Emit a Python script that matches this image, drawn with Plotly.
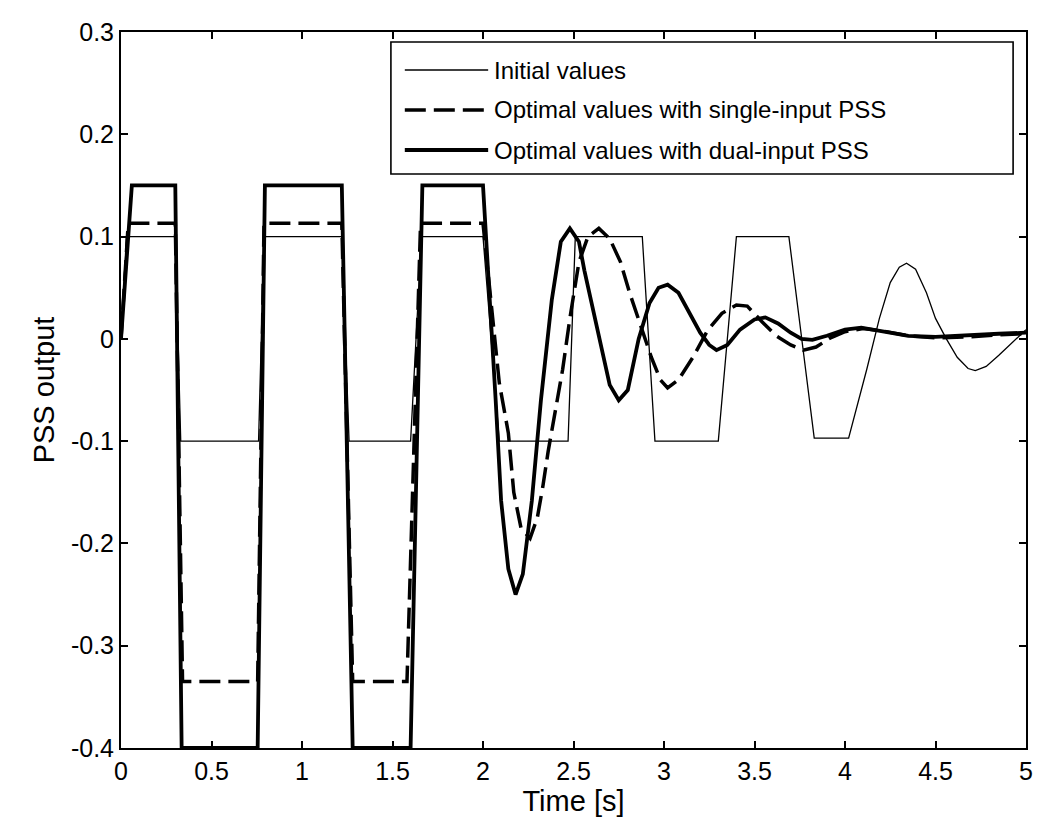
import plotly.graph_objects as go

# ---------------- data ----------------
t_initial = [0.0, 0.03, 0.30, 0.33, 0.76, 0.79, 1.22, 1.26, 1.60, 1.66, 2.00, 2.09,
             2.47, 2.51, 2.88, 2.95, 3.30, 3.40, 3.69, 3.83, 4.02, 4.12, 4.19, 4.25,
             4.30, 4.34, 4.39, 4.45, 4.50, 4.56, 4.62, 4.68, 4.72, 4.78, 4.85, 4.92, 5.00]
v_initial = [0.0, 0.10, 0.10, -0.10, -0.10, 0.10, 0.10, -0.10, -0.10, 0.10, 0.10, -0.10,
             -0.10, 0.10, 0.10, -0.10, -0.10, 0.10, 0.10, -0.097, -0.097, -0.03, 0.02, 0.055,
             0.070, 0.074, 0.068, 0.045, 0.020, 0.0, -0.018, -0.029, -0.031, -0.027, -0.016, -0.004, 0.009]

t_single = [0.0, 0.04, 0.30, 0.34, 0.755, 0.79, 1.22, 1.28, 1.58, 1.655, 2.00, 2.05,
            2.09, 2.14, 2.17, 2.21, 2.26, 2.30, 2.33, 2.36, 2.40, 2.44, 2.48, 2.53,
            2.58, 2.64, 2.70, 2.76, 2.81, 2.87, 2.93, 2.98, 3.02, 3.08, 3.16, 3.24,
            3.32, 3.40, 3.46, 3.54, 3.62, 3.70, 3.77, 3.84, 3.92, 4.00, 4.10, 4.20,
            4.35, 4.50, 4.70, 4.85, 5.00]
v_single = [0.0, 0.113, 0.113, -0.335, -0.335, 0.113, 0.113, -0.335, -0.335, 0.113, 0.113, 0.03,
            -0.043, -0.092, -0.150, -0.185, -0.195, -0.175, -0.145, -0.110, -0.070, -0.030, 0.020, 0.075,
            0.100, 0.108, 0.098, 0.075, 0.045, 0.013, -0.018, -0.040, -0.048, -0.040, -0.018, 0.008,
            0.025, 0.033, 0.032, 0.017, 0.003, -0.006, -0.011, -0.008, 0.001, 0.007, 0.010, 0.008,
            0.003, 0.001, 0.002, 0.004, 0.005]

t_dual = [0.0, 0.06, 0.30, 0.335, 0.755, 0.795, 1.22, 1.28, 1.60, 1.665, 2.00, 2.04,
          2.07, 2.10, 2.14, 2.18, 2.22, 2.27, 2.32, 2.38, 2.43, 2.48, 2.53, 2.56,
          2.64, 2.70, 2.75, 2.80, 2.86, 2.92, 2.97, 3.02, 3.08, 3.14, 3.20, 3.25,
          3.29, 3.35, 3.42, 3.50, 3.56, 3.63, 3.70, 3.76, 3.82, 3.90, 4.00, 4.09,
          4.20, 4.35, 4.50, 4.70, 4.85, 5.00]
v_dual = [0.0, 0.15, 0.15, -0.40, -0.40, 0.15, 0.15, -0.40, -0.40, 0.15, 0.15, 0.038,
          -0.060, -0.158, -0.225, -0.250, -0.230, -0.158, -0.060, 0.038, 0.095, 0.108, 0.095, 0.067,
          0.002, -0.045, -0.060, -0.050, 0.000, 0.035, 0.050, 0.053, 0.045, 0.025, 0.006, -0.006,
          -0.011, -0.006, 0.009, 0.019, 0.021, 0.015, 0.006, 0.000, -0.001, 0.003, 0.009, 0.011,
          0.008, 0.003, 0.002, 0.004, 0.005, 0.006]

series_names = ["Initial values",
                "Optimal values with single-input PSS",
                "Optimal values with dual-input PSS"]

x_ticks = [0, 0.5, 1, 1.5, 2, 2.5, 3, 3.5, 4, 4.5, 5]
x_ticklabels = ["0", "0.5", "1", "1.5", "2", "2.5", "3", "3.5", "4", "4.5", "5"]
y_ticks = [0.3, 0.2, 0.1, 0, -0.1, -0.2, -0.3, -0.4]
y_ticklabels = ["0.3", "0.2", "0.1", "0", "-0.1", "-0.2", "-0.3", "-0.4"]

# ---------------- figure ----------------
FONT = "Liberation Sans, Arial, Helvetica, sans-serif"
styles = [dict(color="black", width=1.3),
          dict(color="black", width=3.5, dash="21px,8px"),
          dict(color="black", width=3.8)]

fig = go.Figure()
for t, v, name, st in zip([t_initial, t_single, t_dual],
                          [v_initial, v_single, v_dual],
                          series_names, styles):
    fig.add_trace(go.Scatter(x=t, y=v, mode="lines", name=name, line=st,
                             showlegend=False))

# custom legend (MATLAB-like) in paper coordinates
L, R, T, B = 121, 1033, 32, 748
def px(xp):
    return (xp - L) / (R - L)
def py(yp):
    return 1 - (yp - T) / (B - T)

shapes = [dict(type="rect", xref="paper", yref="paper",
               x0=px(393), x1=px(1020), y0=py(174), y1=py(42),
               line=dict(color="black", width=1.6), fillcolor="white", layer="above")]
annotations = []
for i, (name, st) in enumerate(zip(series_names, styles)):
    yy = 70 + 40 * i
    shapes.append(dict(type="line", xref="paper", yref="paper",
                       x0=px(407), x1=px(491), y0=py(yy), y1=py(yy),
                       line=st, layer="above"))
    annotations.append(dict(xref="paper", yref="paper", x=px(495), y=py(yy),
                            text=name, showarrow=False, xanchor="left",
                            yanchor="middle", font=dict(family=FONT, size=24, color="black")))

fig.update_layout(
    width=1044, height=833,
    margin=dict(l=121, r=1044 - 1033, t=32, b=833 - 748),
    paper_bgcolor="white", plot_bgcolor="white",
    font=dict(family=FONT, size=25, color="black"),
    shapes=shapes, annotations=annotations,
    showlegend=False,
)
fig.update_xaxes(range=[0, 5], tickvals=x_ticks, ticktext=x_ticklabels,
                 showgrid=False, zeroline=False, showline=True, linecolor="black",
                 linewidth=2, mirror="ticks", ticks="inside", ticklen=7, tickwidth=1.5,
                 tickcolor="black", tickfont=dict(family=FONT, size=25),
                 title=dict(text="Time [s]", font=dict(family=FONT, size=29), standoff=2))
fig.update_yaxes(range=[-0.4, 0.3], tickvals=y_ticks, ticktext=y_ticklabels,
                 showgrid=False, zeroline=False, showline=True, linecolor="black",
                 linewidth=2, mirror="ticks", ticks="inside", ticklen=7, tickwidth=1.5,
                 tickcolor="black", tickfont=dict(family=FONT, size=25),
                 title=dict(text="PSS output", font=dict(family=FONT, size=29), standoff=8))

fig.write_html("out.html")
